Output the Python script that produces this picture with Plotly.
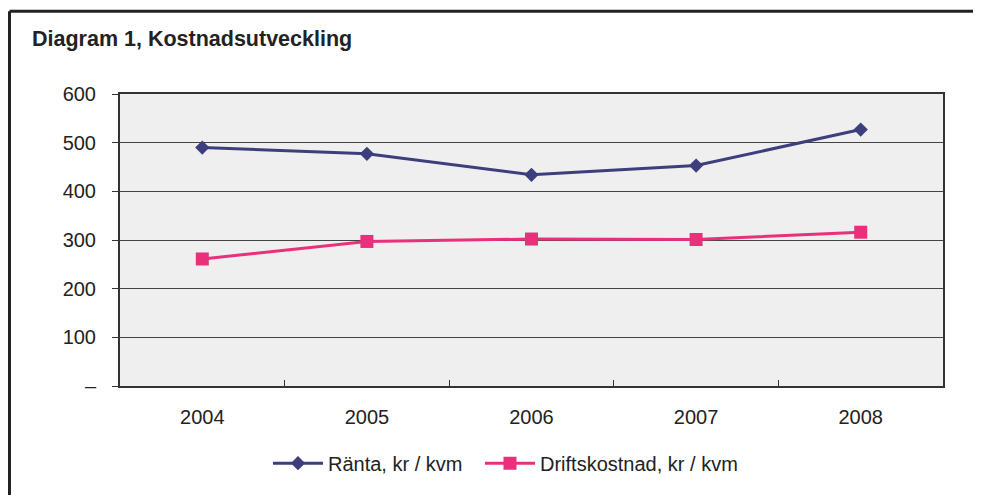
import plotly.graph_objects as go

years = ["2004", "2005", "2006", "2007", "2008"]
ranta = [490, 477, 434, 453, 527]
drift = [261, 297, 302, 301, 316]
y_ticks = [0, 100, 200, 300, 400, 500, 600]
y_tick_labels = ["–", "100", "200", "300", "400", "500", "600"]

# page has 8px default body margin; compensate
OFF = 8
W, H = 981 - OFF, 495 - OFF
L, R, T, B = 120 - OFF, 38, 94 - OFF, 106

fig = go.Figure()
fig.add_trace(go.Scatter(
    x=years, y=ranta, name="Ränta, kr / kvm", mode="lines+markers",
    line=dict(color="#3d3e7c", width=3),
    marker=dict(symbol="diamond", size=11, color="#3d3e7c"),
    legend="legend",
))
fig.add_trace(go.Scatter(
    x=years, y=drift, name="Driftskostnad, kr / kvm", mode="lines+markers",
    line=dict(color="#e8317a", width=3),
    marker=dict(symbol="square", size=13, color="#e8317a"),
    legend="legend2",
))

pw = W - L - R
ph = H - T - B
def px(x):
    return (x - OFF - L) / pw
def py(y):
    return (H - B - (y - OFF)) / ph

leg_common = dict(
    orientation="h", xanchor="left", yanchor="middle",
    font=dict(size=20), bgcolor="rgba(0,0,0,0)", itemwidth=50,
)

fig.update_layout(
    width=W, height=H,
    margin=dict(l=L, r=R, t=T, b=B),
    paper_bgcolor="white",
    plot_bgcolor="#efefef",
    font=dict(family="Liberation Sans, Arial, sans-serif", color="#222", size=20),
    title=dict(
        text="<b>Diagram 1, Kostnadsutveckling</b>",
        x=(32 - OFF) / W, xanchor="left", xref="container",
        y=1 - (38 - OFF) / H, yanchor="middle", yref="container",
        font=dict(size=21.5, color="#222"),
    ),
    showlegend=True,
    legend=dict(x=px(268), y=py(467), **leg_common),
    legend2=dict(x=px(480), y=py(467), **leg_common),
    xaxis=dict(
        type="category", range=[-0.5, 4.5],
        showgrid=False, showline=True, linecolor="#333", linewidth=2,
        mirror=True,
        ticks="inside", tickson="boundaries", ticklen=6, tickcolor="#333",
        tickfont=dict(size=20), ticklabelstandoff=12,
    ),
    yaxis=dict(
        range=[0, 600], tickvals=y_ticks, ticktext=y_tick_labels,
        showgrid=True, gridcolor="#444", gridwidth=1.2,
        showline=True, linecolor="#333", linewidth=2, mirror=True,
        ticks="outside", ticklen=6, tickcolor="#333",
        tickfont=dict(size=20), ticklabelstandoff=12,
        zeroline=False,
    ),
    shapes=[
        dict(type="line", xref="paper", yref="paper",
             x0=px(9.5), x1=px(981 + 20), y0=py(10.5), y1=py(10.5),
             line=dict(color="#222", width=3)),
        dict(type="line", xref="paper", yref="paper",
             x0=px(9.5), x1=px(9.5), y0=py(10.5), y1=py(495 + 20),
             line=dict(color="#222", width=3)),
    ],
)

fig.write_html("out.html")
